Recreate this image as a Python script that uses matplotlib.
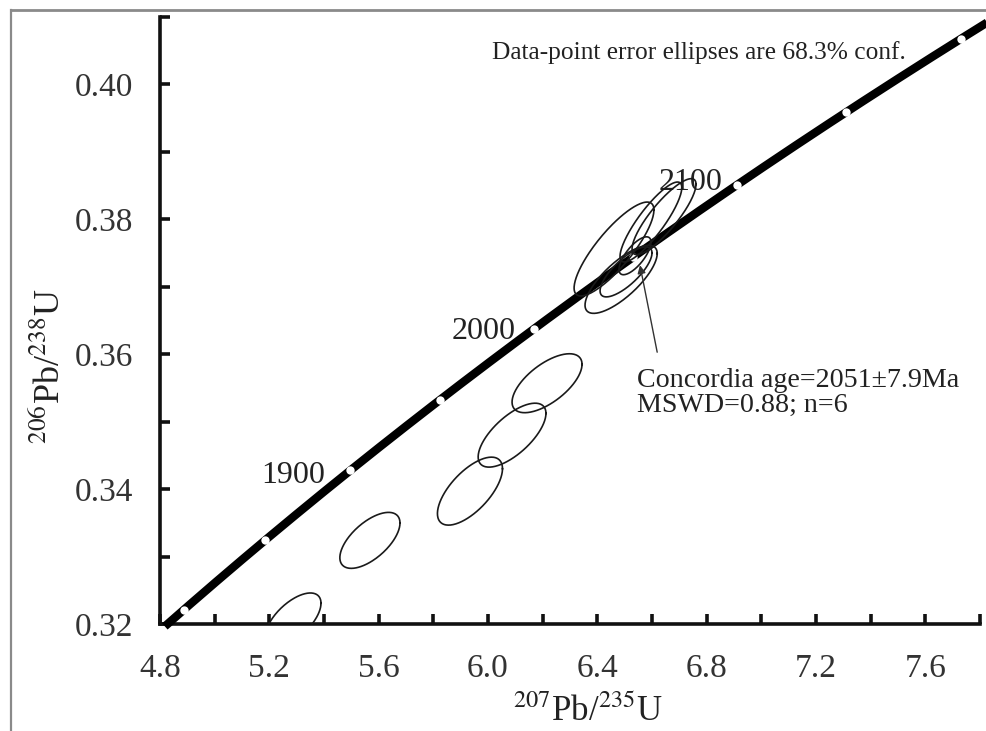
import numpy as np
import matplotlib
matplotlib.use("Agg")
import matplotlib.pyplot as plt
from matplotlib.lines import Line2D

plt.rcParams['font.family'] = ['Liberation Serif', 'DejaVu Serif']
plt.rcParams['mathtext.fontset'] = 'stix'

# ---- data ----
# error ellipses: centre (207Pb/235U, 206Pb/238U), 1-sigma half-widths, correlation
ell_x   = [5.287, 5.568, 5.934, 6.088, 6.216, 6.461, 6.596, 6.644, 6.487, 6.505]
ell_y   = [0.3206, 0.3324, 0.3397, 0.3480, 0.3557, 0.3756, 0.3796, 0.3804, 0.3711, 0.3722]
ell_sx  = [0.102, 0.110, 0.119, 0.124, 0.128, 0.146, 0.113, 0.117, 0.132, 0.095]
ell_sy  = [0.0040, 0.00415, 0.00504, 0.00474, 0.00437, 0.00696, 0.00593, 0.00563, 0.00504, 0.0037]
ell_rho = [0.62, 0.62, 0.66, 0.68, 0.64, 0.83, 0.86, 0.85, 0.76, 0.76]

# concordia age ellipse
conc_age = 2051.0
conc_sx, conc_sy, conc_rho = 0.0585, 0.00281, 0.72

# concordia curve and age marks (Ma)
lam238 = 1.55125e-10
lam235 = 9.8485e-10
curve_ages = np.linspace(1788, 2218, 400)
mark_ages = [1800, 1850, 1900, 1950, 2000, 2050, 2100, 2150, 2200]
label_ages = [1900, 2000, 2100]
label_offsets = [(-18, -4), (-13, -2), (-10, 2)]

x_ticks = [4.8, 5.2, 5.6, 6.0, 6.4, 6.8, 7.2, 7.6]
x_minor = [5.0, 5.4, 5.8, 6.2, 6.6, 7.0, 7.4, 7.8]
y_ticks = [0.32, 0.34, 0.36, 0.38, 0.40]
y_minor = [0.33, 0.35, 0.37, 0.39, 0.41]


def conc(t_ma):
    t = np.asarray(t_ma) * 1e6
    return np.exp(lam235 * t) - 1, np.exp(lam238 * t) - 1


def ellipse_pts(cx, cy, sx, sy, rho, n=200):
    t = np.linspace(0, 2 * np.pi, n)
    x = cx + sx * np.cos(t)
    y = cy + sy * (rho * np.cos(t) + np.sqrt(1 - rho ** 2) * np.sin(t))
    return x, y


fig = plt.figure(figsize=(9.87, 7.31), dpi=100)
ax = fig.add_axes([160 / 987, 1 - 624 / 731, 820 / 987, 607 / 731])
ax.set_xlim(4.8, 7.8)
ax.set_ylim(0.32, 0.41)

# concordia curve
cx_, cy_ = conc(curve_ages)
ax.plot(cx_, cy_, color='black', lw=6.0, solid_capstyle='butt', clip_on=False, zorder=3)
mx, my = conc(mark_ages)
ax.plot(mx, my, 'o', ms=6.0, mfc='white', mec='none', zorder=4, clip_on=False)
for age, off in zip(label_ages, label_offsets):
    lx, ly = conc(age)
    ax.annotate(f"{age}", (lx, ly), xytext=off, textcoords='offset points',
                ha='right', va='center', fontsize=23, color='#222222', zorder=5)

# data ellipses
for x0, y0, sx, sy, r in zip(ell_x, ell_y, ell_sx, ell_sy, ell_rho):
    ex, ey = ellipse_pts(x0, y0, sx, sy, r)
    ax.plot(ex, ey, color='#1a1a1a', lw=1.2, zorder=6)

ccx, ccy = conc(conc_age)
ex, ey = ellipse_pts(float(ccx), float(ccy), conc_sx, conc_sy, conc_rho)
ax.plot(ex, ey, color='#1a1a1a', lw=1.2, zorder=6)

# annotation arrow and texts
ax.annotate("", xy=(6.556, 0.3732), xytext=(6.619, 0.3603),
            arrowprops=dict(arrowstyle='-|>', color='#333333', lw=1.0,
                            mutation_scale=12, shrinkA=0, shrinkB=0), zorder=7)
ax.text(6.545, 0.35615, "Concordia age=2051\u00b17.9Ma", ha='left', va='center',
        fontsize=20.2, color='#222222')
ax.text(6.545, 0.35244, "MSWD=0.88; n=6", ha='left', va='center',
        fontsize=20.2, color='#222222')
ax.text(6.773, 0.4047, "Data-point error ellipses are 68.3% conf.", ha='center',
        va='center', fontsize=18.3, color='#222222')

# axes styling
for s in ['top', 'right']:
    ax.spines[s].set_visible(False)
for s in ['left', 'bottom']:
    ax.spines[s].set_linewidth(2.6)
    ax.spines[s].set_color('#111111')
ax.set_xticks(x_ticks)
ax.set_xticks(x_minor, minor=True)
ax.set_yticks(y_ticks)
ax.set_yticks(y_minor, minor=True)
ax.set_xticklabels([f"{v:.1f}" for v in x_ticks])
ax.set_yticklabels([f"{v:.2f}" for v in y_ticks])
ax.tick_params(axis='both', which='both', direction='in', length=7, width=2.6,
               color='#111111')
ax.tick_params(axis='both', which='minor', labelleft=False, labelbottom=False)
ax.tick_params(axis='x', which='major', pad=21, labelsize=24, labelcolor='#333333')
ax.tick_params(axis='y', which='major', pad=19, labelsize=24, labelcolor='#333333')

ax.set_xlabel(r"$^{207}$Pb/$^{235}$U", fontsize=25, color='#222222')
ax.set_ylabel(r"$^{206}$Pb/$^{238}$U", fontsize=26, color='#222222')
ax.xaxis.set_label_coords((588 - 160) / 820, -(695 - 624) / 607)
ax.yaxis.set_label_coords(-(160 - 67) / 820, (624 - 366) / 607)

# outer frame (top and left edges)
fig.add_artist(Line2D([11 / 987, 1], [1 - 10 / 731, 1 - 10 / 731], transform=fig.transFigure,
                      color='#8a8a8a', lw=2.0))
fig.add_artist(Line2D([11 / 987, 11 / 987], [0, 1 - 10 / 731], transform=fig.transFigure,
                      color='#8a8a8a', lw=1.6))

fig.savefig("out.png", dpi=100)
